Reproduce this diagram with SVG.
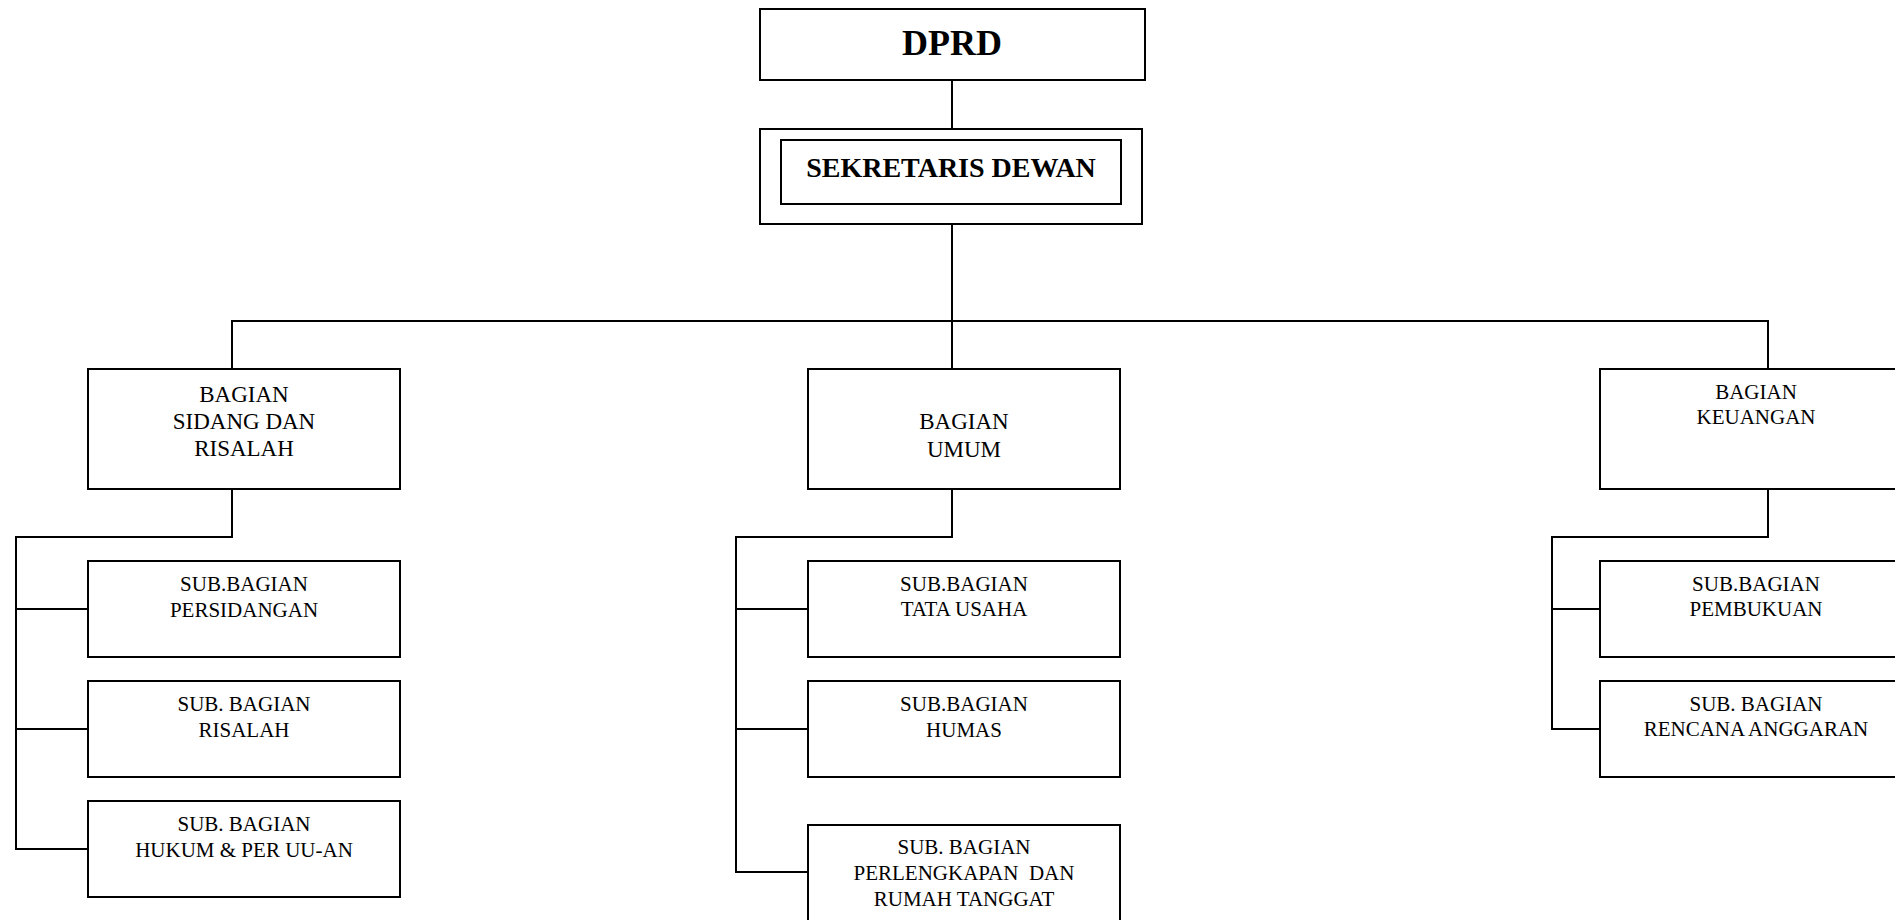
<svg xmlns="http://www.w3.org/2000/svg" width="1895" height="920" viewBox="0 0 1895 920">
<style>
  .box { fill: #ffffff; stroke: #000000; stroke-width: 2; }
  .ln { fill: none; stroke: #000000; stroke-width: 2; }
  text { font-family: "Liberation Serif", "Times New Roman", serif; fill: #000000; text-anchor: middle; }
  .head { font-weight: bold; }
  .bag { font-size: 23px; }
  .sub { font-size: 21px; }
</style>
<rect x="0" y="0" width="1895" height="920" fill="#ffffff"/>
<g id="connectors">
  <path class="ln" d="M952 80 V129"/>
  <path class="ln" d="M952 224 V321"/>
  <path class="ln" d="M232 369 V321 H1768 V369"/>
  <path class="ln" d="M952 321 V369"/>
  <path class="ln" d="M232 489 V537 H16 V849 H88"/>
  <path class="ln" d="M16 609 H88 M16 729 H88"/>
  <path class="ln" d="M952 489 V537 H736 V872 H808"/>
  <path class="ln" d="M736 609 H808 M736 729 H808"/>
  <path class="ln" d="M1768 489 V537 H1552 V729 H1600"/>
  <path class="ln" d="M1552 609 H1600"/>
</g>
<g id="dprd">
  <rect class="box" x="760" y="9" width="385" height="71"/>
  <text class="head" x="952" y="55" font-size="36">DPRD</text>
</g>
<g id="sekretaris">
  <rect class="box" x="760" y="129" width="382" height="95"/>
  <rect class="box" x="781" y="140" width="340" height="64"/>
  <text class="head" x="951" y="177" font-size="28">SEKRETARIS DEWAN</text>
</g>
<g id="bagian-sidang">
  <rect class="box" x="88" y="369" width="312" height="120"/>
  <text class="bag" x="244" y="402">BAGIAN</text>
  <text class="bag" x="244" y="429">SIDANG DAN</text>
  <text class="bag" x="244" y="456">RISALAH</text>
</g>
<g id="bagian-umum">
  <rect class="box" x="808" y="369" width="312" height="120"/>
  <text class="bag" x="964" y="429">BAGIAN</text>
  <text class="bag" x="964" y="457">UMUM</text>
</g>
<g id="bagian-keuangan">
  <rect class="box" x="1600" y="369" width="312" height="120"/>
  <text class="sub" x="1756" y="399">BAGIAN</text>
  <text class="sub" x="1756" y="424">KEUANGAN</text>
</g>
<g id="sub-persidangan">
  <rect class="box" x="88" y="561" width="312" height="96"/>
  <text class="sub" x="244" y="591">SUB.BAGIAN</text>
  <text class="sub" x="244" y="617">PERSIDANGAN</text>
</g>
<g id="sub-risalah">
  <rect class="box" x="88" y="681" width="312" height="96"/>
  <text class="sub" x="244" y="711">SUB. BAGIAN</text>
  <text class="sub" x="244" y="737">RISALAH</text>
</g>
<g id="sub-hukum">
  <rect class="box" x="88" y="801" width="312" height="96"/>
  <text class="sub" x="244" y="831">SUB. BAGIAN</text>
  <text class="sub" x="244" y="857">HUKUM &amp; PER UU-AN</text>
</g>
<g id="sub-tatausaha">
  <rect class="box" x="808" y="561" width="312" height="96"/>
  <text class="sub" x="964" y="591">SUB.BAGIAN</text>
  <text class="sub" x="964" y="616">TATA USAHA</text>
</g>
<g id="sub-humas">
  <rect class="box" x="808" y="681" width="312" height="96"/>
  <text class="sub" x="964" y="711">SUB.BAGIAN</text>
  <text class="sub" x="964" y="737">HUMAS</text>
</g>
<g id="sub-perlengkapan">
  <rect class="box" x="808" y="825" width="312" height="100"/>
  <text class="sub" x="964" y="854">SUB. BAGIAN</text>
  <text class="sub" x="964" y="880" style="white-space:pre">PERLENGKAPAN  DAN</text>
  <text class="sub" x="964" y="906">RUMAH TANGGAT</text>
</g>
<g id="sub-pembukuan">
  <rect class="box" x="1600" y="561" width="312" height="96"/>
  <text class="sub" x="1756" y="591">SUB.BAGIAN</text>
  <text class="sub" x="1756" y="616">PEMBUKUAN</text>
</g>
<g id="sub-rencana">
  <rect class="box" x="1600" y="681" width="312" height="96"/>
  <text class="sub" x="1756" y="711">SUB. BAGIAN</text>
  <text class="sub" x="1756" y="736">RENCANA ANGGARAN</text>
</g>
</svg>
